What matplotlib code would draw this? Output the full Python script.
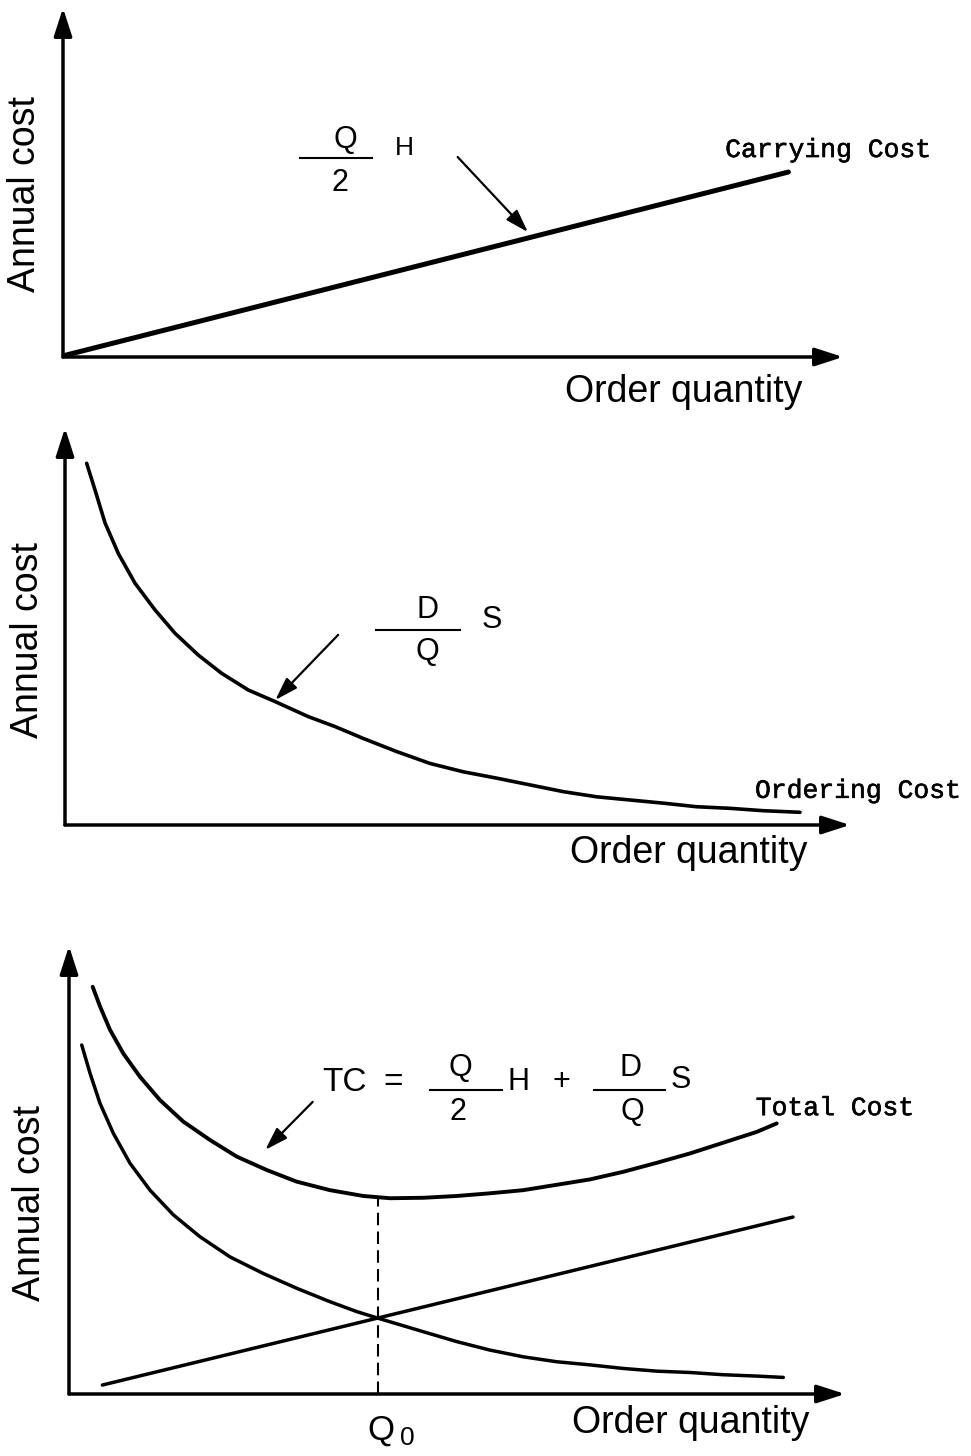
import matplotlib
matplotlib.use("Agg")
import matplotlib.pyplot as plt
import matplotlib.patheffects as pe
import numpy as np

# ---- data (arbitrary units, 0-100 on each axis) ----
# panel 1: carrying cost (Q/2)H
carry_q1 = [0.3, 93.0]
carry_c1 = [0.5, 53.0]

# panel 2: ordering cost (D/Q)S
order_q2 = [2.76, 3.82, 5.10, 6.79, 8.92, 11.46, 14.01, 16.98, 19.96, 23.35, 26.75,
            30.99, 34.39, 38.0, 42.25, 46.50, 50.74, 54.99, 59.24, 63.48, 67.73,
            71.97, 76.22, 80.47, 84.71, 88.96, 93.63]
order_c2 = [91.1, 84.4, 76.1, 68.4, 60.9, 54.2, 48.3, 42.8, 38.2, 34.0, 31.1,
            27.3, 24.8, 21.8, 18.5, 15.5, 13.4, 11.8, 10.1, 8.4, 7.1,
            6.3, 5.5, 4.6, 4.2, 3.6, 3.2]

# panel 3: total, ordering and carrying cost
total_q3 = [3.05, 4.0, 5.28, 7.0, 9.15, 11.73, 14.73, 18.17, 21.61, 25.48, 29.34,
            33.63, 37.93, 41.37, 45.66, 49.96, 54.25, 58.54, 62.85, 67.14, 71.43,
            75.73, 80.03, 84.32, 88.62, 91.20]
total_c3 = [90.9, 86.5, 81.3, 76.0, 70.8, 65.6, 60.8, 56.7, 53.0, 50.0, 47.4,
            45.5, 44.2, 43.7, 43.8, 44.2, 44.8, 45.5, 46.7, 47.9, 49.6,
            51.6, 53.7, 56.1, 58.5, 60.4]
ordering_q3 = [1.64, 2.71, 3.99, 5.71, 7.86, 10.44, 13.44, 16.88, 20.75, 25.04, 29.34,
               33.63, 37.07, 39.86, 45.66, 49.96, 54.25, 58.54, 62.85, 67.14, 71.43,
               75.73, 80.03, 84.32, 88.62, 92.05]
ordering_c3 = [77.9, 71.6, 64.9, 58.2, 51.5, 45.5, 40.0, 35.1, 30.6, 26.9, 23.6,
               20.6, 18.4, 16.9, 13.9, 11.7, 9.8, 8.3, 7.2, 6.5, 5.7,
               5.1, 4.8, 4.3, 4.0, 3.7]
carry_q3 = [4.3, 93.3]
carry_c3 = [2.0, 39.5]
q0 = 39.8

W, H = 971, 1456
SANS = "Liberation Sans"
MONO = "Liberation Mono"
MONO_FX = [pe.withStroke(linewidth=0.4, foreground="black")]

fig = plt.figure(figsize=(W / 100, H / 100), dpi=100)
fig.patch.set_facecolor("white")


def make_axes(left, bottom, width, height):
    """Axes whose 0-100 data box sits on the drawn axis lines (pixel box)."""
    ax = fig.add_axes([left / W, 1 - bottom / H, width / W, height / H])
    ax.set_xlim(0, 100)
    ax.set_ylim(0, 100)
    ax.set_axis_off()
    # axis arrows
    for xy in [(100, 0), (0, 100)]:
        ax.annotate("", xy=xy, xytext=(0, 0),
                    arrowprops=dict(arrowstyle="-|>,head_length=1.7,head_width=0.55",
                                    lw=2.5, color="black", mutation_scale=10,
                                    shrinkA=0, shrinkB=0),
                    annotation_clip=False)
    return ax


def pointer(ax, start, end):
    ax.annotate("", xy=end, xytext=start,
                arrowprops=dict(arrowstyle="-|>,head_length=1.4,head_width=0.45",
                                lw=1.6, color="black", mutation_scale=10,
                                shrinkA=0, shrinkB=0),
                annotation_clip=False)


def frac_bar(ax, x0, x1, y):
    ax.plot([x0, x1], [y, y], color="black", lw=1.5, clip_on=False)


def curve_name(ax, x, y, s):
    ax.text(x, y, s, family=MONO, fontsize=19, ha="left", va="center",
            path_effects=MONO_FX)


def labels(ax, ox, oy, ax_label_xy):
    ax.text(ox, oy, "Order quantity", family=SANS, fontsize=27,
            ha="left", va="center")
    ax.text(*ax_label_xy, "Annual cost", family=SANS, fontsize=27,
            rotation=90, ha="center", va="center")


def curve(ax, q, c, lw):
    ax.plot(q, c, color="black", lw=lw, solid_capstyle="round",
            solid_joinstyle="round", clip_on=False)


# ---------------- panel 1 ----------------
ax1 = make_axes(63, 357, 780, 349)
curve(ax1, carry_q1, carry_c1, 3.6)
ax1.text(36.2, 62.2, "Q", family=SANS, fontsize=22, ha="center", va="center")
frac_bar(ax1, 30.4, 39.6, 57.0)
ax1.text(35.5, 49.9, "2", family=SANS, fontsize=22, ha="center", va="center")
ax1.text(43.8, 59.9, "H", family=SANS, fontsize=19, ha="center", va="center")
pointer(ax1, (50.6, 57.3), (59.6, 35.8))
curve_name(ax1, 84.9, 59.3, "Carrying Cost")
labels(ax1, 64.4, -10.0, (-4.9, 46.7))

# ---------------- panel 2 ----------------
ax2 = make_axes(65, 825, 785, 397)
curve(ax2, order_q2, order_c2, 2.6)
ax2.text(46.2, 54.2, "D", family=SANS, fontsize=22, ha="center", va="center")
frac_bar(ax2, 39.6, 50.3, 49.1)
ax2.text(46.2, 43.6, "Q", family=SANS, fontsize=22, ha="center", va="center")
ax2.text(54.4, 51.6, "S", family=SANS, fontsize=22, ha="center", va="center")
pointer(ax2, (34.8, 47.9), (26.8, 31.5))
curve_name(ax2, 87.9, 8.6, "Ordering Cost")
labels(ax2, 64.3, -7.1, (-4.7, 46.6))

# ---------------- panel 3 ----------------
ax3 = make_axes(69, 1394, 776, 448)
curve(ax3, total_q3, total_c3, 2.8)
curve(ax3, ordering_q3, ordering_c3, 2.5)
curve(ax3, carry_q3, carry_c3, 2.5)
q0_top = np.interp(q0, total_q3, total_c3)
ax3.plot([q0, q0], [0, q0_top], color="black", lw=1.5, linestyle=(0, (6, 3)), clip_on=False)
ax3.text(40.2, -8.0, "Q", family=SANS, fontsize=25, ha="center", va="center")
ax3.text(43.6, -9.8, "0", family=SANS, fontsize=19, ha="center", va="center")

ax3.text(32.6, 69.6, "TC", family=SANS, fontsize=24, ha="left", va="center")
ax3.text(41.8, 69.6, "=", family=SANS, fontsize=24, ha="center", va="center")
ax3.text(50.4, 72.8, "Q", family=SANS, fontsize=22, ha="center", va="center")
frac_bar(ax3, 46.5, 55.8, 67.9)
ax3.text(50.1, 62.9, "2", family=SANS, fontsize=22, ha="center", va="center")
ax3.text(57.9, 69.6, "H", family=SANS, fontsize=22, ha="center", va="center")
ax3.text(63.5, 69.6, "+", family=SANS, fontsize=22, ha="center", va="center")
ax3.text(72.3, 72.8, "D", family=SANS, fontsize=22, ha="center", va="center")
frac_bar(ax3, 67.7, 76.8, 67.9)
ax3.text(72.6, 62.9, "Q", family=SANS, fontsize=22, ha="center", va="center")
ax3.text(78.9, 70.1, "S", family=SANS, fontsize=22, ha="center", va="center")
pointer(ax3, (31.4, 65.2), (25.3, 54.5))
curve_name(ax3, 88.5, 63.8, "Total Cost")
labels(ax3, 64.8, -6.5, (-5.0, 42.6))

fig.savefig("out.png", dpi=100, facecolor="white")
